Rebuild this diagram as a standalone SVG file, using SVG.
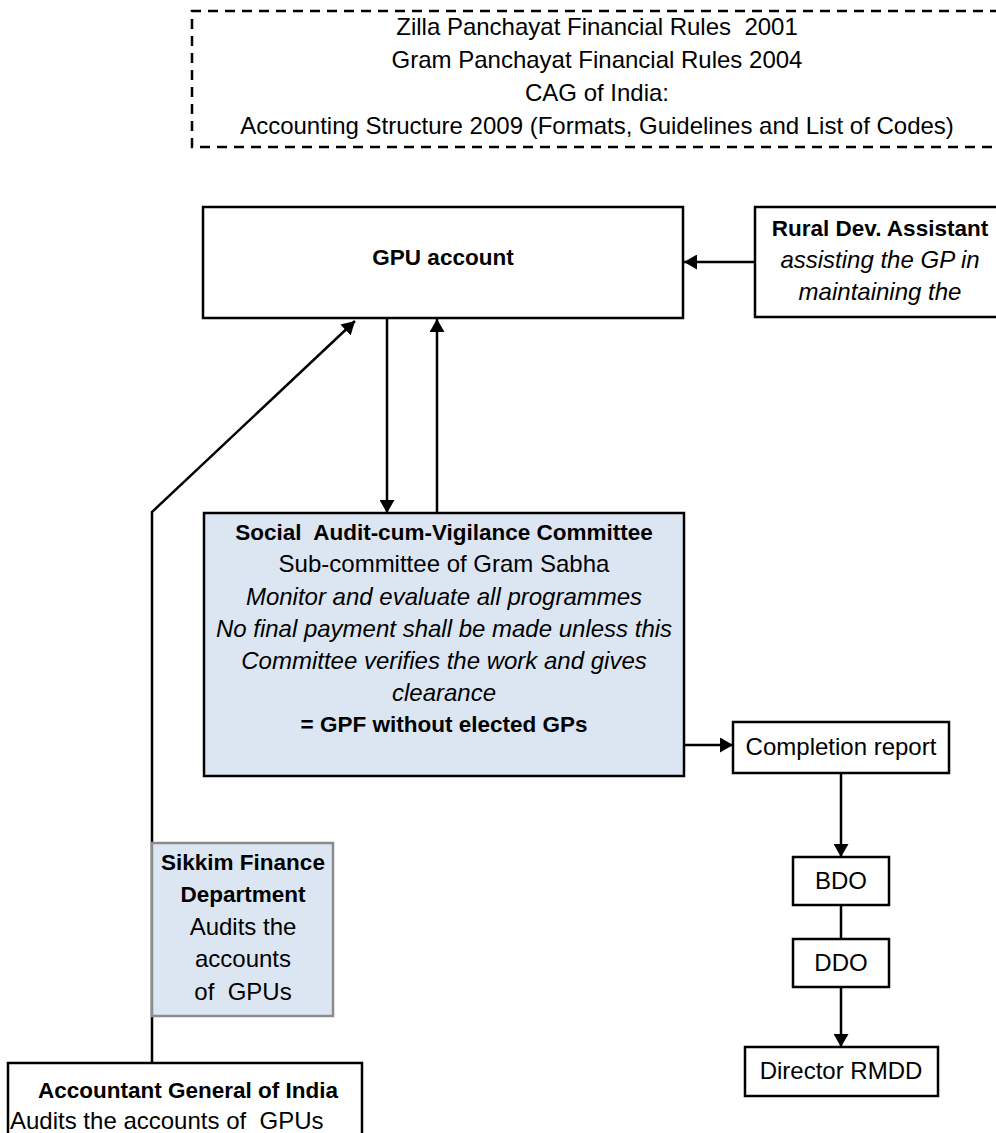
<svg xmlns="http://www.w3.org/2000/svg" width="996" height="1133" viewBox="0 0 996 1133">
<style>
  .box { fill: #ffffff; stroke: #000000; stroke-width: 2.5; }
  .blue { fill: #dce6f2; stroke: #000000; stroke-width: 2.5; }
  .grey { fill: #dce6f2; stroke: #8c8c8c; stroke-width: 2.5; }
  .dash { fill: none; stroke: #000000; stroke-width: 2.5; stroke-dasharray: 10 7; }
  .t { font-family: "Liberation Sans", Arial, sans-serif; font-size: 24px; fill: #000000; text-anchor: middle; }
  .b { font-weight: bold; font-size: 22.5px; }
  .i { font-style: italic; }
  .l { text-anchor: start; }
  .c { fill: none; stroke: #000000; stroke-width: 2.5; }
</style>
<defs>
  <marker id="arr" markerUnits="userSpaceOnUse" markerWidth="15" markerHeight="15" refX="13" refY="7.5" orient="auto">
    <path d="M0,0 L13,7.5 L0,15 z" fill="#000000"/>
  </marker>
</defs>
<rect width="996" height="1133" fill="#ffffff"/>

<g id="rules">
  <path class="dash" d="M1000,11 L192,11 L192,147 L1000,147"/>
  <text class="t" x="597" y="35" xml:space="preserve">Zilla Panchayat Financial Rules  2001</text>
  <text class="t" x="597" y="68">Gram Panchayat Financial Rules 2004</text>
  <text class="t" x="597" y="101">CAG of India:</text>
  <text class="t" x="597" y="134">Accounting Structure 2009 (Formats, Guidelines and List of Codes)</text>
</g>

<g id="connectors">
  <line class="c" x1="755" y1="262" x2="684" y2="262" marker-end="url(#arr)"/>
  <line class="c" x1="387" y1="319" x2="387" y2="513" marker-end="url(#arr)"/>
  <line class="c" x1="437" y1="513" x2="437" y2="319" marker-end="url(#arr)"/>
  <polyline class="c" points="152,1063 152,512 355,321" marker-end="url(#arr)"/>
  <line class="c" x1="684" y1="745" x2="733" y2="745" marker-end="url(#arr)"/>
  <line class="c" x1="841" y1="773" x2="841" y2="857" marker-end="url(#arr)"/>
  <line class="c" x1="841" y1="905" x2="841" y2="939"/>
  <line class="c" x1="841" y1="987" x2="841" y2="1047" marker-end="url(#arr)"/>
</g>

<g id="gpu-account">
  <rect class="box" x="203" y="207" width="480" height="111"/>
  <text class="t b" x="443" y="265">GPU account</text>
</g>

<g id="rural-dev-assistant">
  <rect class="box" x="755" y="207" width="260" height="110"/>
  <text class="t b" x="880" y="236">Rural Dev. Assistant</text>
  <text class="t i" x="880" y="268">assisting the GP in</text>
  <text class="t i" x="880" y="300">maintaining the</text>
</g>

<g id="social-audit">
  <rect class="blue" x="204" y="513" width="480" height="263"/>
  <text class="t b" x="444" y="540" xml:space="preserve">Social  Audit-cum-Vigilance Committee</text>
  <text class="t" x="444" y="572">Sub-committee of Gram Sabha</text>
  <text class="t i" x="444" y="605">Monitor and evaluate all programmes</text>
  <text class="t i" x="444" y="637">No final payment shall be made unless this</text>
  <text class="t i" x="444" y="669">Committee verifies the work and gives</text>
  <text class="t i" x="444" y="701">clearance</text>
  <text class="t b" x="444" y="732">= GPF without elected GPs</text>
</g>

<g id="completion-report">
  <rect class="box" x="733" y="722" width="216" height="51"/>
  <text class="t" x="841" y="755">Completion report</text>
</g>

<g id="bdo">
  <rect class="box" x="793" y="857" width="96" height="48"/>
  <text class="t" x="841" y="889">BDO</text>
</g>

<g id="ddo">
  <rect class="box" x="793" y="939" width="96" height="48"/>
  <text class="t" x="841" y="971">DDO</text>
</g>

<g id="director-rmdd">
  <rect class="box" x="745" y="1047" width="193" height="49"/>
  <text class="t" x="841" y="1079">Director RMDD</text>
</g>

<g id="sikkim-finance">
  <rect class="grey" x="152" y="843" width="181" height="173"/>
  <text class="t b" x="243" y="870">Sikkim Finance</text>
  <text class="t b" x="243" y="902">Department</text>
  <text class="t" x="243" y="935">Audits the</text>
  <text class="t" x="243" y="967">accounts</text>
  <text class="t" x="243" y="1000" xml:space="preserve">of  GPUs</text>
</g>

<g id="accountant-general">
  <rect class="box" x="8" y="1063" width="354" height="90"/>
  <text class="t b" x="188" y="1098">Accountant General of India</text>
  <text class="t l" x="10" y="1129" xml:space="preserve">Audits the accounts of  GPUs</text>
</g>
</svg>
